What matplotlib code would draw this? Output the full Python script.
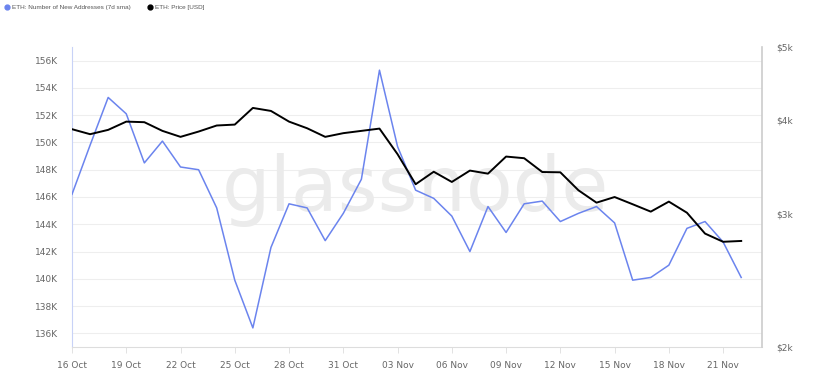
import numpy as np
import pandas as pd
import matplotlib
matplotlib.use("Agg")
import matplotlib.pyplot as plt
import matplotlib.dates as mdates
from matplotlib.lines import Line2D

# daily data, 16 Oct - 22 Nov
dates = pd.date_range("2021-10-16", "2021-11-22", freq="D")

new_addresses_k = [146.2, 149.8, 153.3, 152.1, 148.5, 150.1, 148.2, 148.0, 145.2, 139.9,
                   136.4, 142.3, 145.5, 145.2, 142.8, 144.8, 147.3, 155.3, 149.7, 146.5,
                   145.9, 144.6, 142.0, 145.3, 143.4, 145.5, 145.7, 144.2, 144.8, 145.3,
                   144.1, 139.9, 140.1, 141.0, 143.7, 144.2, 142.7, 140.1]

price_usd = [3890, 3831, 3882, 3981, 3974, 3870, 3800, 3862, 3934, 3945,
             4151, 4113, 3981, 3901, 3800, 3843, 3870, 3897, 3604, 3288,
             3416, 3311, 3428, 3396, 3578, 3560, 3413, 3410, 3228, 3108,
             3162, 3093, 3024, 3118, 3014, 2828, 2758, 2765]

left_ticks = [136, 138, 140, 142, 144, 146, 148, 150, 152, 154, 156]
right_ticks = [2000, 3000, 4000, 5000]
right_labels = ["$2k", "$3k", "$4k", "$5k"]

blue = "#6b84ee"
tick_color = "#666666"

fig = plt.figure(figsize=(8.19, 3.85), dpi=100)
ax = fig.add_axes([72 / 819, 1 - 347 / 385, 690 / 819, 300 / 385])

# watermark behind the lines
ax.text(415 / 819, 1 - 190 / 385, "glassnode", transform=fig.transFigure, fontsize=55,
        color="#ebebeb", ha="center", va="center", zorder=1)

ax.plot(dates, new_addresses_k, color=blue, lw=1.1, zorder=3)
ax.set_ylim(135, 157)
ax.set_yticks(left_ticks)
ax.set_yticklabels([f"{v}K" for v in left_ticks])
ax.grid(axis="y", color="#eeeeee", lw=0.8)
ax.set_axisbelow(True)

ax.set_xlim(dates[0], dates[0] + pd.Timedelta(days=38.15))
ax.set_xticks(dates[::3])
ax.xaxis.set_major_formatter(mdates.DateFormatter("%d %b"))

ax.tick_params(axis="y", length=0, pad=10, labelsize=6.5, colors=tick_color)
ax.tick_params(axis="x", length=4, width=0.6, color="#dddddd", pad=6,
               labelsize=6.5, labelcolor=tick_color)

ax.spines["top"].set_visible(False)
ax.spines["left"].set_color("#c8d2f7")
ax.spines["bottom"].set_color("#dddddd")
ax.spines["right"].set_visible(False)

ax2 = ax.twinx()
ax2.plot(dates, price_usd, color="black", lw=1.4, zorder=4)
ax2.set_yscale("log")
ax2.set_ylim(2000, 5000)
ax2.set_yticks(right_ticks)
ax2.set_yticklabels(right_labels)
ax2.yaxis.set_minor_locator(matplotlib.ticker.NullLocator())
ax2.tick_params(axis="y", length=0, pad=10, labelsize=6.5, colors=tick_color)
for s in ["top", "left", "bottom"]:
    ax2.spines[s].set_visible(False)
ax2.spines["right"].set_color("#cccccc")
ax2.spines["right"].set_linewidth(1.2)

# legend
fig.add_artist(Line2D([7 / 819], [1 - 7 / 385], marker="o", ms=3.5, color=blue, lw=0))
fig.text(12 / 819, 1 - 7 / 385, "ETH: Number of New Addresses (7d sma)", fontsize=4.6,
         family="Liberation Sans", color="#555555", va="center")
fig.add_artist(Line2D([150 / 819], [1 - 7 / 385], marker="o", ms=3.5, color="black", lw=0))
fig.text(155 / 819, 1 - 7 / 385, "ETH: Price [USD]", fontsize=4.6,
         family="Liberation Sans", color="#555555", va="center")

fig.savefig("out.png", dpi=100)
